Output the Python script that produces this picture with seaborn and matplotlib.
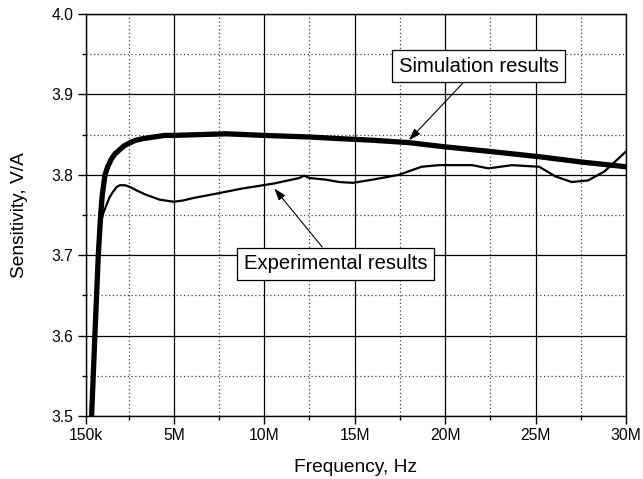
import matplotlib
matplotlib.use("Agg")
import matplotlib.pyplot as plt
import seaborn as sns
import pandas as pd
from matplotlib.ticker import MultipleLocator, FixedLocator

# Data (frequency in MHz, sensitivity in V/A)
sim_x = [0.46, 0.64, 0.83, 0.96, 1.05, 1.2, 1.35, 1.56, 1.75, 2.0, 2.25, 2.5, 2.9,
         3.3, 4.5, 5.0, 7.9, 10.0, 12.5, 14.15, 16.0, 18.0, 19.9, 22.5, 25.2, 27.5, 30.0]
sim_y = [3.50, 3.60, 3.70, 3.75, 3.775, 3.80, 3.81, 3.82, 3.826, 3.831, 3.836, 3.839,
         3.843, 3.845, 3.849, 3.849, 3.851, 3.849, 3.847, 3.845, 3.843, 3.840, 3.835,
         3.829, 3.8225, 3.816, 3.81]

exp_x = [0.46, 0.64, 0.85, 0.92, 1.0, 1.1, 1.29, 1.45, 1.65, 1.85, 2.02, 2.3, 2.57,
         3.0, 3.49, 4.23, 5.0, 5.5, 6.06, 7.45, 8.8, 10.5, 11.94, 12.2, 12.5, 13.4,
         14.15, 14.9, 16.0, 17.45, 18.7, 19.66, 21.5, 22.4, 23.7, 25.2, 26.1, 27.0,
         27.9, 28.8, 30.0]
exp_y = [3.50, 3.60, 3.71, 3.727, 3.742, 3.752, 3.763, 3.772, 3.779, 3.785, 3.787,
         3.787, 3.785, 3.780, 3.775, 3.769, 3.7665, 3.768, 3.771, 3.777, 3.783, 3.789,
         3.796, 3.799, 3.796, 3.794, 3.791, 3.790, 3.794, 3.800, 3.810, 3.812, 3.812,
         3.808, 3.812, 3.810, 3.798, 3.791, 3.793, 3.804, 3.829]

x_ticks = [0.15, 5, 10, 15, 20, 25, 30]
x_tick_labels = ["150k", "5M", "10M", "15M", "20M", "25M", "30M"]
y_ticks = [3.5, 3.6, 3.7, 3.8, 3.9, 4.0]

sns.set_style("ticks")
plt.rcParams['font.family'] = ['Liberation Sans', 'DejaVu Sans']
plt.rcParams['text.color'] = 'black'
plt.rcParams['axes.labelcolor'] = 'black'

fig = plt.figure(figsize=(6.43, 4.79), dpi=100)
ax = fig.add_axes([86/643, 1 - 416/479, (626 - 86)/643, (416 - 14)/479])

sim_df = pd.DataFrame({"f": sim_x, "s": sim_y})
exp_df = pd.DataFrame({"f": exp_x, "s": exp_y})
sns.lineplot(data=exp_df, x="f", y="s", ax=ax, color="black", linewidth=1.6, zorder=3)
sns.lineplot(data=sim_df, x="f", y="s", ax=ax, color="black", linewidth=3.8, zorder=4)

ax.set_xlim(0.15, 30)
ax.set_ylim(3.5, 4.0)
ax.xaxis.set_major_locator(FixedLocator(x_ticks))
ax.set_xticklabels(x_tick_labels)
ax.xaxis.set_minor_locator(FixedLocator([2.5, 7.5, 12.5, 17.5, 22.5, 27.5]))
ax.yaxis.set_major_locator(FixedLocator(y_ticks))
ax.set_yticklabels([f"{v:.1f}" for v in y_ticks])
ax.yaxis.set_minor_locator(MultipleLocator(0.05))

ax.grid(which="major", color="black", linestyle="-", linewidth=0.9)
ax.grid(which="minor", color="#444444", linestyle=(0, (1, 2)), linewidth=0.9)
ax.set_axisbelow(True)

for sp in ax.spines.values():
    sp.set_color("black")
    sp.set_linewidth(1.0)
ax.tick_params(which="major", direction="out", length=6, width=1.0, labelsize=11.3,
               pad=3, colors="black", top=False, right=False)
ax.tick_params(which="minor", direction="out", length=3, width=1.0, colors="black",
               top=False, right=False)

ax.set_xlabel("Frequency, Hz", fontsize=13.8, labelpad=11, color="black")
ax.set_ylabel("Sensitivity, V/A", fontsize=13.8, labelpad=17, color="black")

bbox = dict(boxstyle="square,pad=0.33", fc="white", ec="black", lw=0.9)
ax.annotate("Simulation results", xy=(18.0, 3.843), xytext=(21.86, 3.935),
            fontsize=14.6, ha="center", va="center", bbox=bbox, zorder=6, color="black",
            arrowprops=dict(arrowstyle="-|>,head_length=0.6,head_width=0.2", color="black",
                            lw=0.8, shrinkA=0, shrinkB=0, mutation_scale=12))
ax.annotate("Experimental results", xy=(10.56, 3.783), xytext=(13.96, 3.6894),
            fontsize=14.6, ha="center", va="center", bbox=bbox, zorder=6, color="black",
            arrowprops=dict(arrowstyle="-|>,head_length=0.6,head_width=0.2", color="black",
                            lw=0.8, shrinkA=0, shrinkB=0, mutation_scale=12))

fig.savefig("out.png", dpi=100)
